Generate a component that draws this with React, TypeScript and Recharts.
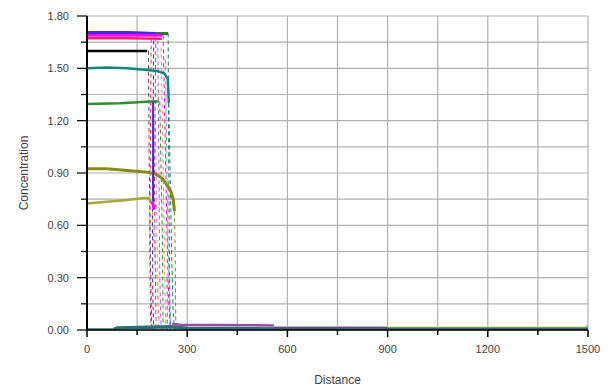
import { CartesianGrid, Line, LineChart, XAxis, YAxis } from "recharts";

type Pt = [number, number];

const xTicks = [0, 150, 300, 450, 600, 750, 900, 1050, 1200, 1350, 1500];
const yTicks = [0, 0.15, 0.3, 0.45, 0.6, 0.75, 0.9, 1.05, 1.2, 1.35, 1.5, 1.65, 1.8];

// plateaus before the front
const darkGreenTop: Pt[] = [[0, 1.7], [120, 1.7], [243, 1.7]];
const blueTop: Pt[] = [[0, 1.705], [120, 1.705], [205, 1.7]];
const magentaTop: Pt[] = [[0, 1.69], [120, 1.69], [226, 1.69]];
const redTop: Pt[] = [[0, 1.672], [120, 1.672], [224, 1.67]];
const blackTop: Pt[] = [[0, 1.6], [100, 1.6], [180, 1.6]];
const tealTop: Pt[] = [[0, 1.5], [60, 1.505], [120, 1.5], [180, 1.49], [210, 1.485], [232, 1.47], [242, 1.44], [245, 1.3]];
const greenTop: Pt[] = [[0, 1.295], [100, 1.3], [190, 1.31], [215, 1.31]];
const oliveTop: Pt[] = [[0, 0.925], [60, 0.925], [120, 0.915], [180, 0.905], [205, 0.895], [225, 0.87], [240, 0.83], [250, 0.8], [258, 0.75], [262, 0.68]];
const yellowTop: Pt[] = [[0, 0.725], [60, 0.735], [120, 0.745], [170, 0.757], [185, 0.757], [195, 0.72]];
const blueBar: Pt[] = [[198, 1.31], [198, 0.71]];
const magentaTail: Pt[] = [[196, 0.74], [200, 0.69], [203, 0.72]];

// dashed fronts falling to zero
const darkGreenDrop: Pt[] = [[243, 1.7], [244, 1.2], [246, 0.6], [248, 0.1], [250, 0]];
const blueDrop: Pt[] = [[200, 1.7], [198, 1.2], [196, 0.6], [197, 0.2], [200, 0]];
const magentaDrop: Pt[] = [[228, 1.69], [232, 1.3], [236, 0.9], [240, 0.5], [245, 0.15], [250, 0]];
const redDrop: Pt[] = [[192, 1.67], [190, 1.1], [188, 0.5], [190, 0.1], [192, 0]];
const blackDrop: Pt[] = [[184, 1.6], [186, 1.0], [190, 0.4], [194, 0]];
const tealDrop: Pt[] = [[245, 1.3], [250, 0.8], [254, 0.4], [258, 0.1], [262, 0]];
const greenDrop: Pt[] = [[218, 1.31], [222, 0.9], [226, 0.5], [228, 0]];
const oliveDrop: Pt[] = [[262, 0.68], [264, 0.45], [265, 0.2], [266, 0]];
const yellowDrop: Pt[] = [[195, 0.72], [200, 0.5], [210, 0.25], [215, 0.05]];
const violetDrop: Pt[] = [[212, 1.66], [215, 1.0], [218, 0.3], [222, 0]];
const pinkDrop: Pt[] = [[205, 1.2], [208, 0.7], [212, 0.3], [215, 0]];
const cyanDrop: Pt[] = [[235, 1.55], [238, 1.1], [242, 0.55], [247, 0.2], [252, 0]];
const orangeDrop: Pt[] = [[222, 1.62], [226, 1.15], [230, 0.7], [233, 0.3], [236, 0]];
const purpleDrop: Pt[] = [[206, 1.68], [204, 1.25], [202, 0.85], [204, 0.4], [207, 0]];
const grayStub: Pt[] = [[240, 0.3], [240, 0]];

// near-zero traces
const tealBase: Pt[] = [[0, 0], [80, 0.002], [90, 0.012], [150, 0.014], [250, 0.018], [300, 0.01], [600, 0.006], [900, 0.004], [1200, 0.004], [1490, 0.004], [1500, 0.02]];
const purpleBase: Pt[] = [[255, 0.035], [280, 0.03], [400, 0.028], [560, 0.026]];
const pinkBase: Pt[] = [[560, 0.02], [700, 0.02], [900, 0.02]];
const limeBase: Pt[] = [[900, 0.018], [1200, 0.018], [1500, 0.018]];
const slateBase: Pt[] = [[560, 0.01], [900, 0.008], [1500, 0.008]];

const toRows = (pts: Pt[]) => pts.map(([x, y]) => ({ x, y }));

const solid = [
  { pts: tealBase, color: "#2a6f73", w: 3.5 },
  { pts: slateBase, color: "#3d5f6e", w: 3 },
  { pts: purpleBase, color: "#9a4aa0", w: 2.5 },
  { pts: pinkBase, color: "#f0a0c0", w: 1 },
  { pts: limeBase, color: "#d8f070", w: 1 },
  { pts: darkGreenTop, color: "#1a7a3a", w: 3 },
  { pts: blueTop, color: "#3a2ae0", w: 3 },
  { pts: magentaTop, color: "#ff00ff", w: 3 },
  { pts: redTop, color: "#ff2266", w: 2.5 },
  { pts: blackTop, color: "#000000", w: 2.5 },
  { pts: tealTop, color: "#13867e", w: 2.5 },
  { pts: greenTop, color: "#2f8f2f", w: 2.5 },
  { pts: oliveTop, color: "#8a8a10", w: 3 },
  { pts: yellowTop, color: "#a6a63a", w: 2.5 },
  { pts: blueBar, color: "#3a2ae0", w: 2 },
  { pts: magentaTail, color: "#ff00ff", w: 2.5 },
];

const dashed = [
  { pts: darkGreenDrop, color: "#1a7a3a" },
  { pts: blueDrop, color: "#3a2ae0" },
  { pts: magentaDrop, color: "#ff00ff" },
  { pts: redDrop, color: "#ff2266" },
  { pts: blackDrop, color: "#555555" },
  { pts: tealDrop, color: "#13867e" },
  { pts: greenDrop, color: "#2f8f2f" },
  { pts: oliveDrop, color: "#8a8a10" },
  { pts: yellowDrop, color: "#c0c040" },
  { pts: violetDrop, color: "#9966cc" },
  { pts: pinkDrop, color: "#ff88aa" },
  { pts: cyanDrop, color: "#66aacc" },
  { pts: orangeDrop, color: "#dd9966" },
  { pts: purpleDrop, color: "#aa44aa" },
  { pts: grayStub, color: "#666666" },
];

const XTick = ({ x, y, payload }: any) => {
  const major = Math.round(payload.value / 150) % 2 === 0;
  return (
    <g>
      <line x1={x} y1={y} x2={x} y2={y + (major ? 7 : 5)} stroke="#000" strokeWidth={1.5} />
      {major && (
        <text x={x} y={y + 23} textAnchor="middle" fontSize={11} fill="#444" fontFamily="Liberation Sans, Arial, sans-serif">
          {payload.value}
        </text>
      )}
    </g>
  );
};

const YTick = ({ x, y, payload }: any) => {
  const major = Math.round(payload.value / 0.15) % 2 === 0;
  return (
    <g>
      <line x1={x} y1={y} x2={x - (major ? 10 : 6)} y2={y} stroke="#000" strokeWidth={1.2} />
      {major && (
        <text x={x - 18} y={y + 4} textAnchor="end" fontSize={11} fill="#444" fontFamily="Liberation Sans, Arial, sans-serif">
          {payload.value.toFixed(2)}
        </text>
      )}
    </g>
  );
};

export default function App() {
  return (
    <div style={{ position: "absolute", left: 0, top: 0, width: 610, height: 389, background: "#fff" }}>
      <LineChart width={610} height={389} margin={{ top: 16, right: 22, bottom: 0, left: 0 }}>
        <CartesianGrid stroke="#b0b0b0" strokeWidth={1.2} />
        <XAxis
          type="number"
          dataKey="x"
          domain={[0, 1500]}
          ticks={xTicks}
          interval={0}
          allowDataOverflow
          height={59}
          tickSize={0}
          tickMargin={0}
          tick={<XTick />}
          axisLine={{ stroke: "#000", strokeWidth: 1.5 }}
          label={{ value: "Distance", position: "insideBottom", offset: 5, fontSize: 12, fill: "#444", fontFamily: "Liberation Sans, Arial, sans-serif" }}
        />
        <YAxis
          type="number"
          domain={[0, 1.8]}
          ticks={yTicks}
          interval={0}
          allowDataOverflow
          width={87}
          tickSize={0}
          tickMargin={0}
          tick={<YTick />}
          axisLine={{ stroke: "#000", strokeWidth: 2 }}
          label={{ value: "Concentration", angle: -90, position: "insideLeft", offset: 24, fontSize: 12, fill: "#444", fontFamily: "Liberation Sans, Arial, sans-serif", style: { textAnchor: "middle" } }}
        />
        {dashed.map((s, i) => (
          <Line key={"d" + i} data={toRows(s.pts)} dataKey="y" type="linear" stroke={s.color} strokeWidth={1} strokeDasharray="4 3" dot={false} isAnimationActive={false} />
        ))}
        {solid.map((s, i) => (
          <Line key={"s" + i} data={toRows(s.pts)} dataKey="y" type="linear" stroke={s.color} strokeWidth={s.w} dot={false} isAnimationActive={false} />
        ))}
      </LineChart>
    </div>
  );
}
